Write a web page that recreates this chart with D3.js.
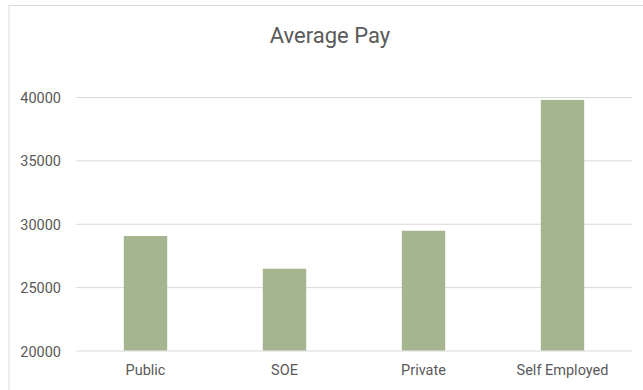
<!DOCTYPE html>
<html>
<head>
<meta charset="utf-8">
<script src="https://cdn.jsdelivr.net/npm/d3@7"></script>
<style>
  body { margin: 0; background: #fff; }
  svg text { font-family: Roboto, "Liberation Sans", sans-serif; fill: #595959; }
  .axis path { display: none; }
  .axis line { stroke: #d9d9d9; }
</style>
</head>
<body>
<svg id="chart" width="643" height="390"></svg>
<script>
(function() {

  let categories = ["Public", "SOE", "Private", "Self Employed"];
  let pay = [29030, 26450, 29450, 39770];
  let yTicks = [20000, 25000, 30000, 35000, 40000];

  let w = 643;
  let h = 390;
  let left = 76, right = 632;
  let top = 97, bottom = 350.5;

  let svg = d3.select("#chart");

  // chart frame (only left and top edges fall inside the picture)
  svg.append("rect")
     .attr("x", 9)
     .attr("y", 5.5)
     .attr("width", w + 20)
     .attr("height", h + 20)
     .attr("fill", "none")
     .attr("stroke", "#d9d9d9")
     .attr("stroke-width", 1);

  let xScale = d3.scaleBand()
                 .domain(categories)
                 .range([left, right])
                 .paddingInner(0.688)
                 .paddingOuter(0.344);
  let yScale = d3.scaleLinear()
                 .domain([20000, 40000])
                 .range([bottom, top]);

  // gridlines + y labels
  let yAxis = d3.axisLeft()
                .scale(yScale)
                .tickValues(yTicks)
                .tickFormat(d3.format("d"))
                .tickSizeInner(-(right - left))
                .tickPadding(15);
  svg.append("g")
     .attr("class", "axis")
     .attr("transform", "translate(" + left + ",0)")
     .call(yAxis)
     .selectAll("text")
     .attr("font-size", "14.5px")
     .attr("dy", "0.38em");

  // bars
  svg.selectAll(".bar")
     .data(pay)
     .enter()
     .append("rect")
     .attr("class", "bar")
     .attr("x", (d, i) => xScale(categories[i]))
     .attr("y", d => yScale(d))
     .attr("width", xScale.bandwidth())
     .attr("height", d => yScale(20000) - yScale(d))
     .attr("fill", "#a5b590");

  // x labels
  let xAxis = d3.axisBottom()
                .scale(xScale)
                .tickSize(0)
                .tickPadding(14);
  svg.append("g")
     .attr("class", "axis")
     .attr("transform", "translate(0," + bottom + ")")
     .call(xAxis)
     .selectAll("text")
     .attr("font-size", "14.5px");

  svg.append("text")
     .attr("text-anchor", "middle")
     .attr("x", 330)
     .attr("y", 42.5)
     .attr("font-size", "22px")
     .text("Average Pay");

})();
</script>
</body>
</html>
